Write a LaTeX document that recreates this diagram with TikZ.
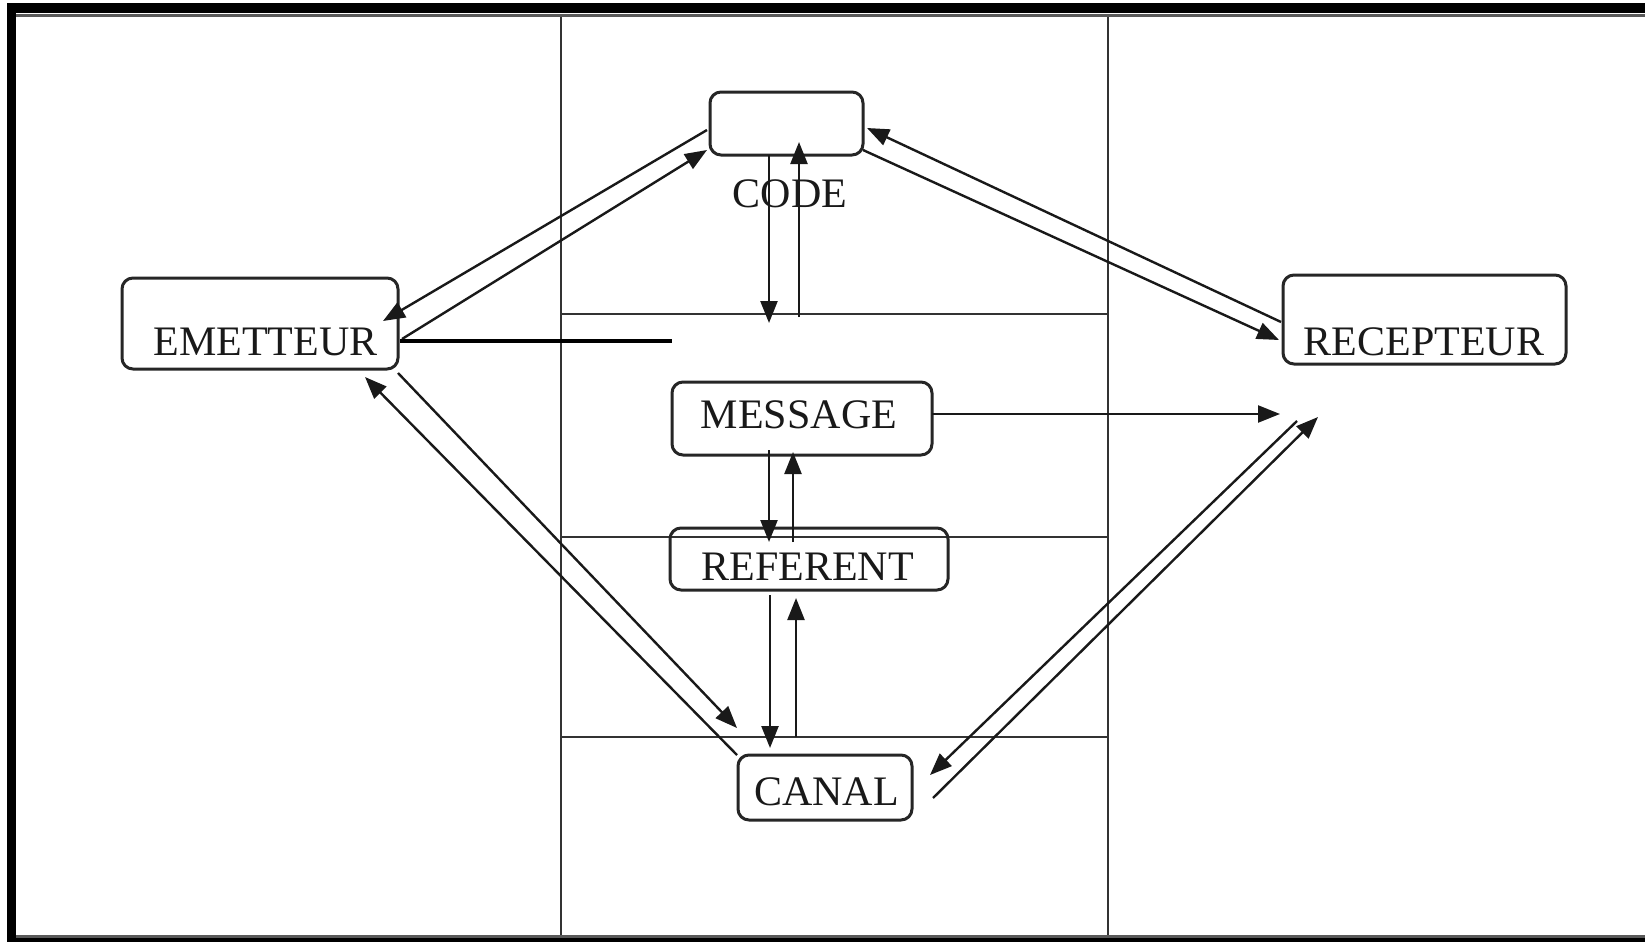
\documentclass[tikz,border=0pt]{standalone}
\usepackage{fontspec}
\setmainfont{Liberation Serif}
\usetikzlibrary{arrows.meta}
\begin{document}
\begin{tikzpicture}[x=1pt,y=-1pt,
  box/.style={draw=black!85, line width=3pt, rounded corners=11pt, inner sep=0pt, fill=none},
  lbl/.style={inner sep=0pt, anchor=base, font=\fontsize{42}{50}\selectfont, text=black!90},
  grid/.style={draw=black!80, line width=2pt},
  conn/.style={draw=black!90, line width=2.4pt, -{Triangle[length=22pt,width=17pt]}},
  bar/.style={draw=black, line width=3.4pt}
]
\useasboundingbox (0,0) rectangle (1645,942);
\fill[white] (0,0) rectangle (1645,942);
% frame
\fill[black] (7,3) rectangle (1645,13);
\fill[black!65] (16,14) rectangle (1645,17.5);
\fill[black] (7,3) rectangle (16,942);
\fill[black!65] (16,934.5) rectangle (1645,938);
\fill[black] (7,938) rectangle (1645,942);
% grid lines
\coordinate (v1t) at (561,17);  \coordinate (v1b) at (561,935);
\coordinate (v2t) at (1108,17); \coordinate (v2b) at (1108,935);
\coordinate (h1l) at (561,314); \coordinate (h1r) at (1108,314);
\coordinate (h2l) at (561,537); \coordinate (h2r) at (1108,537);
\coordinate (h3l) at (561,737); \coordinate (h3r) at (1108,737);
\draw[grid] (v1t) -- (v1b);
\draw[grid] (v2t) -- (v2b);
\draw[grid] (h1l) -- (h1r);
\draw[grid] (h2l) -- (h2r);
\draw[grid] (h3l) -- (h3r);
% boxes
\node[box, minimum width=153pt, minimum height=63pt] (code) at (786.5,123.5) {};
\node[box, minimum width=276pt, minimum height=91pt] (emetteur) at (260,323.5) {};
\node[box, minimum width=283pt, minimum height=89pt] (recepteur) at (1424.5,319.5) {};
\node[box, minimum width=260pt, minimum height=73pt] (message) at (802,418.5) {};
\node[box, minimum width=278pt, minimum height=62pt] (referent) at (809,559) {};
\node[box, minimum width=174pt, minimum height=65pt] (canal) at (825,787.5) {};
% labels
\node[lbl] (tcode) at (790,207) {CODE};
\node[lbl] (temetteur) at (265.5,355) {EMETTEUR};
\node[lbl] (trecepteur) at (1424,355) {RECEPTEUR};
\node[lbl] (tmessage) at (799,428) {MESSAGE};
\node[lbl] (treferent) at (807.5,580) {REFERENT};
\node[lbl] (tcanal) at (826.5,805) {CANAL};
% connector end points
\coordinate (c1s) at (707,130);  \coordinate (c1e) at (383,321);
\coordinate (c2s) at (402,339);  \coordinate (c2e) at (707,150);
\coordinate (bs) at (400,341);   \coordinate (be) at (672,341);
\coordinate (c3s) at (769,155);  \coordinate (c3e) at (769,323);
\coordinate (c4s) at (799,317);  \coordinate (c4e) at (799,142);
\coordinate (c5s) at (1281,322); \coordinate (c5e) at (867,128);
\coordinate (c6s) at (863,150);  \coordinate (c6e) at (1279,340);
\coordinate (c7s) at (932,414);  \coordinate (c7e) at (1280,414);
\coordinate (c8s) at (769,450);  \coordinate (c8e) at (769,542);
\coordinate (c9s) at (793,542);  \coordinate (c9e) at (793,452);
\coordinate (c10s) at (770,595); \coordinate (c10e) at (770,748);
\coordinate (c11s) at (796,737); \coordinate (c11e) at (796,598);
\coordinate (c12s) at (737,755); \coordinate (c12e) at (365,377);
\coordinate (c13s) at (398,373); \coordinate (c13e) at (737,728);
\coordinate (c14s) at (1297,421); \coordinate (c14e) at (930,775);
\coordinate (c15s) at (933,798); \coordinate (c15e) at (1318,417);
% connectors
\draw[conn] (c1s) -- (c1e);
\draw[conn] (c2s) -- (c2e);
\draw[bar] (bs) -- (be);
\draw[conn] (c3s) -- (c3e);
\draw[conn] (c4s) -- (c4e);
\draw[conn] (c5s) -- (c5e);
\draw[conn] (c6s) -- (c6e);
\draw[conn] (c7s) -- (c7e);
\draw[conn] (c8s) -- (c8e);
\draw[conn] (c9s) -- (c9e);
\draw[conn] (c10s) -- (c10e);
\draw[conn] (c11s) -- (c11e);
\draw[conn] (c12s) -- (c12e);
\draw[conn] (c13s) -- (c13e);
\draw[conn] (c14s) -- (c14e);
\draw[conn] (c15s) -- (c15e);
\end{tikzpicture}
\end{document}
